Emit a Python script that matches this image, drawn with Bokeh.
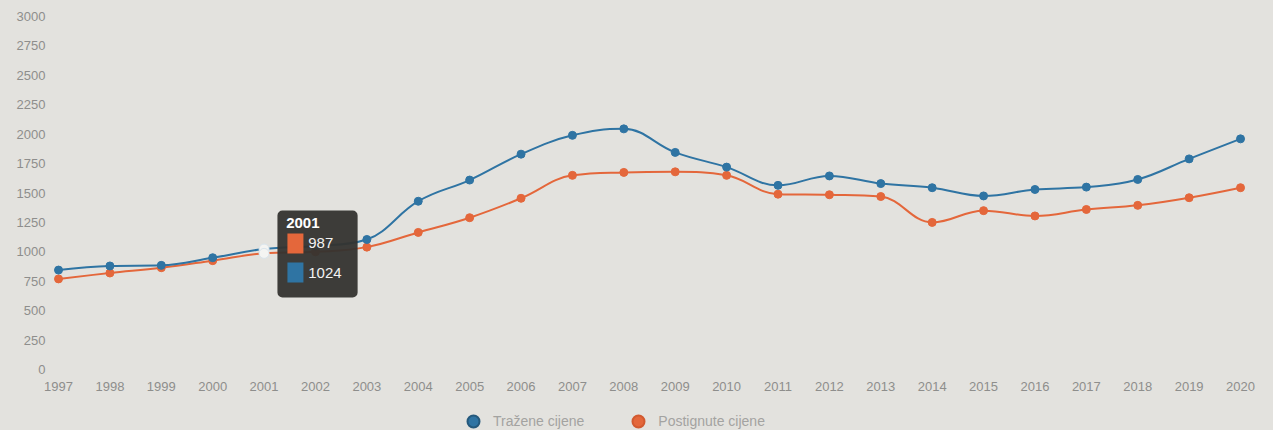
from bokeh.plotting import figure
from bokeh.layouts import column
from bokeh.models import (Range1d, FixedTicker, Legend, LegendItem, ColumnDataSource)
from bokeh.core.properties import value
from bokeh.embed import file_html
from bokeh.resources import INLINE

years = list(range(1997, 2021))
trazene = [845, 880, 885, 950, 1024, 1050, 1105, 1430, 1610, 1830, 1990, 2045,
           1845, 1720, 1565, 1645, 1580, 1545, 1475, 1530, 1550, 1615, 1790, 1960]
postignute = [770, 820, 865, 925, 987, 1000, 1040, 1165, 1290, 1455, 1650, 1675,
              1680, 1650, 1490, 1485, 1470, 1250, 1350, 1305, 1360, 1395, 1460, 1545]
y_ticks = list(range(0, 3001, 250))
series_names = ["Tražene cijene", "Postignute cijene"]
hover_year = 2001

BLUE = "#2f74a3"
ORANGE = "#e4673b"
BG = "#e3e2de"
TXT = "#8e8e8c"
FONT = "Liberation Sans"


def spline_segments(xs, ys, smoothing=1.5):
    """Control points for a smooth (Highcharts-like) curve through the points."""
    n = len(xs)
    denom = smoothing + 1
    lc = [(xs[i], ys[i]) for i in range(n)]
    rc = [(xs[i], ys[i]) for i in range(n)]
    for i in range(1, n - 1):
        x, y = xs[i], ys[i]
        lx = (smoothing * x + xs[i - 1]) / denom
        ly = (smoothing * y + ys[i - 1]) / denom
        rx = (smoothing * x + xs[i + 1]) / denom
        ry = (smoothing * y + ys[i + 1]) / denom
        if rx != lx:
            corr = ((ry - ly) * (rx - x)) / (rx - lx) + y - ry
            ly += corr
            ry += corr
        lo_l, hi_l = min(ys[i - 1], y), max(ys[i - 1], y)
        if ly > hi_l:
            ly = hi_l
            ry = 2 * y - ly
        elif ly < lo_l:
            ly = lo_l
            ry = 2 * y - ly
        lo_r, hi_r = min(ys[i + 1], y), max(ys[i + 1], y)
        if ry > hi_r:
            ry = hi_r
            ly = 2 * y - ry
        elif ry < lo_r:
            ry = lo_r
            ly = 2 * y - ry
        lc[i] = (lx, ly)
        rc[i] = (rx, ry)
    return dict(x0=xs[:-1], y0=ys[:-1], x1=xs[1:], y1=ys[1:],
                cx0=[rc[i][0] for i in range(n - 1)], cy0=[rc[i][1] for i in range(n - 1)],
                cx1=[lc[i + 1][0] for i in range(n - 1)], cy1=[lc[i + 1][1] for i in range(n - 1)])


p = figure(width=1273, height=400, output_backend="svg", toolbar_location=None,
           x_range=Range1d(1996.844, 2020.233), y_range=Range1d(0, 3000),
           min_border_left=50, min_border_right=21, min_border_top=16,
           min_border_bottom=31)
p.background_fill_color = BG
p.background_fill_alpha = 0
p.border_fill_color = BG
p.outline_line_color = None
p.grid.visible = False

for ax in (p.xaxis[0], p.yaxis[0]):
    ax.axis_line_color = None
    ax.major_tick_line_color = None
    ax.minor_tick_line_color = None
    ax.major_tick_out = 0
    ax.major_tick_in = 0
    ax.minor_tick_out = 0
    ax.major_label_text_color = TXT
    ax.major_label_text_font = FONT
    ax.major_label_text_font_size = "13px"

p.xaxis[0].ticker = FixedTicker(ticks=years)
p.xaxis[0].major_label_standoff = 12
p.yaxis[0].ticker = FixedTicker(ticks=y_ticks)
p.yaxis[0].major_label_standoff = 5

src = ColumnDataSource(dict(x=years, a=trazene, b=postignute))

p.bezier(source=ColumnDataSource(spline_segments(years, postignute)),
         x0="x0", y0="y0", x1="x1", y1="y1", cx0="cx0", cy0="cy0",
         cx1="cx1", cy1="cy1", line_color=ORANGE, line_width=2)
p.scatter("x", "b", source=src, size=8, fill_color=ORANGE, line_color=ORANGE)
p.bezier(source=ColumnDataSource(spline_segments(years, trazene)),
         x0="x0", y0="y0", x1="x1", y1="y1", cx0="cx0", cy0="cy0",
         cx1="cx1", cy1="cy1", line_color=BLUE, line_width=2)
p.scatter("x", "a", source=src, size=8, fill_color=BLUE, line_color=BLUE)

# hover highlight
hi = years.index(hover_year)
p.scatter([hover_year, hover_year], [trazene[hi], postignute[hi]], size=10,
          fill_color="#f4f4f2", line_color="#d8e4ec", line_width=1)

# tooltip
tx = hover_year
ta = trazene[hi]
p.quad(left=[tx + 0.26], right=[tx + 1.82], top=[ta + 327], bottom=[ta - 412],
       fill_color="#34332f", fill_alpha=0.95, line_color=None, border_radius=5)
p.text([tx + 0.43], [ta + 217], text=[str(hover_year)], text_color="white",
       text_font=value(FONT), text_font_size="15px", text_font_style="bold",
       text_baseline="middle", text_align="left")
p.rect([tx + 0.61, tx + 0.61], [ta + 47, ta - 200], width=16, height=20,
       width_units="screen", height_units="screen",
       fill_color=[ORANGE, BLUE], line_color=None)
p.text([tx + 0.86, tx + 0.86], [ta + 47, ta - 200],
       text=[str(postignute[hi]), str(trazene[hi])], text_color="#f2f2f2",
       text_font=value(FONT), text_font_size="15px",
       text_baseline="middle", text_align="left")

# legend strip
q = figure(width=1273, height=30, output_backend="svg", toolbar_location=None,
           x_range=Range1d(0, 1), y_range=Range1d(0, 1),
           x_axis_location=None, y_axis_location=None,
           min_border_left=0, min_border_right=0, min_border_top=0,
           min_border_bottom=0)
q.background_fill_color = BG
q.background_fill_alpha = 0
q.border_fill_color = BG
q.outline_line_color = None
q.grid.visible = False
lg_a = q.scatter([-1], [-1], size=12, fill_color=BLUE, line_color="#25597c", line_width=2)
lg_b = q.scatter([-1], [-1], size=12, fill_color=ORANGE, line_color="#d25a30", line_width=2)
legend = Legend(items=[LegendItem(label=series_names[0], renderers=[lg_a]),
                       LegendItem(label=series_names[1], renderers=[lg_b])],
                orientation="horizontal", location=(408, -6),
                padding=0, margin=0, spacing=39, glyph_width=30, glyph_height=30,
                label_height=30, label_standoff=5,
                label_text_font=FONT, label_text_font_size="14px",
                label_text_color="#a3a3a1",
                background_fill_alpha=0, border_line_color=None)
q.add_layout(legend, "center")

layout = column(p, q, spacing=0, styles={"background-color": BG})
open("out.html", "w").write(file_html(layout, INLINE))
